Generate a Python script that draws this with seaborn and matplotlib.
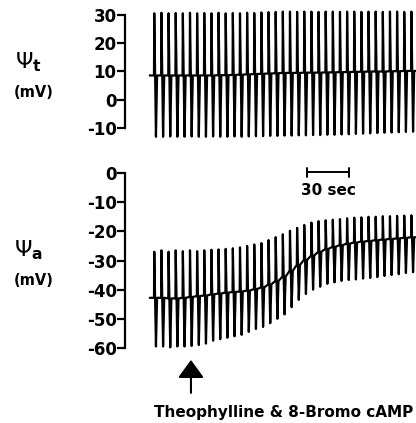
import matplotlib
matplotlib.use("Agg")
import matplotlib.pyplot as plt
import seaborn as sns
import pandas as pd

# ---------------- data ----------------
spike_t = [0.0, 5.1, 10.2, 15.3, 20.4, 25.5, 30.6, 35.7, 40.8, 45.9, 51.0, 56.1,
           61.2, 66.3, 71.4, 76.5, 81.6, 86.7, 91.8, 96.9, 102.0, 107.1, 112.2,
           117.3, 122.4, 127.5, 132.6, 137.7, 142.8, 147.9, 153.0, 158.1, 163.2,
           168.3, 173.4, 178.5, 183.6]

top_base = [8.6, 8.6, 8.6, 8.6, 8.6, 8.6, 8.6, 8.6, 8.6, 8.7, 8.7, 8.8, 8.9,
            9.0, 9.1, 9.2, 9.3, 9.4, 9.5, 9.5, 9.5, 9.6, 9.6, 9.6, 9.7, 9.7,
            9.8, 9.8, 9.9, 9.9, 10.0, 10.0, 10.0, 10.1, 10.1, 10.2, 10.2]
top_peak = [30.6, 30.8, 30.6, 30.7, 30.6, 30.8, 30.6, 30.7, 30.6, 30.8, 30.6,
            30.7, 30.6, 30.8, 30.7, 30.9, 31.0, 31.1, 31.2, 31.2, 31.1, 31.2,
            31.2, 31.1, 31.2, 31.2, 31.1, 31.2, 31.2, 31.1, 31.2, 31.2, 31.1,
            31.2, 31.2, 31.1, 31.2]
top_trough = [-13.1, -13.1, -13.0, -13.1, -13.1, -13.0, -13.1, -13.1, -13.0,
              -13.1, -13.1, -13.0, -13.1, -13.0, -12.9, -12.9, -12.8, -12.8,
              -12.7, -12.7, -12.6, -12.6, -12.5, -12.5, -12.4, -12.4, -12.3,
              -12.2, -12.1, -12.0, -11.9, -11.8, -11.7, -11.6, -11.5, -11.4,
              -11.3]

bot_base = [-42.8, -42.8, -43.0, -43.0, -42.8, -42.5, -42.2, -42.0, -41.6,
            -41.3, -41.0, -40.8, -40.6, -40.3, -39.8, -39.2, -38.2, -37.0,
            -35.5, -33.5, -31.5, -29.8, -28.3, -27.0, -26.0, -25.3, -24.7,
            -24.2, -23.8, -23.5, -23.3, -23.0, -22.8, -22.6, -22.4, -22.2, -22.0]
bot_peak = [-27.0, -26.5, -27.0, -26.5, -26.8, -26.5, -26.8, -26.5, -26.3,
            -26.2, -26.0, -25.8, -25.5, -25.0, -24.5, -24.0, -23.0, -22.0,
            -21.0, -19.8, -18.8, -17.8, -17.0, -16.5, -16.2, -16.0, -15.8,
            -15.5, -15.3, -15.2, -15.0, -15.0, -14.8, -14.8, -14.7, -14.6, -14.5]
bot_trough = [-59.5, -59.5, -59.8, -59.5, -59.5, -59.3, -59.0, -58.5, -57.5,
              -57.0, -56.5, -56.0, -55.5, -54.5, -53.5, -52.8, -51.5, -50.0,
              -48.5, -46.0, -43.5, -41.5, -40.0, -39.0, -38.0, -37.5, -37.0,
              -36.7, -36.5, -36.2, -36.0, -35.7, -35.3, -35.0, -34.7, -34.3, -34.0]

top_ticks = [-10, 0, 10, 20, 30]
top_ticklabels = ["-10", "0", "10", "20", "30"]
bot_ticks = [-60, -50, -40, -30, -20, -10, 0]
bot_ticklabels = ["-60", "-50", "-40", "-30", "-20", "-10", "0"]

scalebar_start = 109.3   # s
scalebar_len = 30        # s
scalebar_label = "30 sec"
drug_time = 26.4         # s
drug_label = "Theophylline & 8-Bromo cAMP"


def trace(ts, base, peak, trough):
    rows = [(ts[0] - 3.0, base[0])]
    for t, b, p, q in zip(ts, base, peak, trough):
        rows += [(t, b), (t + 0.2, p), (t + 1.4, q), (t + 2.2, b)]
    rows.append((ts[-1] + 3.0, base[-1]))
    return pd.DataFrame(rows, columns=["t", "mV"])


sns.set_style("white")
plt.rcParams["font.family"] = ["DejaVu Sans"]
plt.rcParams["axes.unicode_minus"] = False
plt.rcParams["text.color"] = "black"
plt.rcParams["ytick.color"] = "black"
plt.rcParams["ytick.labelcolor"] = "black"

fig = plt.figure(figsize=(4.16, 4.23), dpi=100)
ax1 = fig.add_axes([0.3005, 0.6707, 0.6995, 0.3072])
ax2 = fig.add_axes([0.3005, 0.1636, 0.6995, 0.4411])

xlim = (-20.7, 187.1)
for ax, df, yl, ticks, labels in [
    (ax1, trace(spike_t, top_base, top_peak, top_trough), (-14, 32), top_ticks, top_ticklabels),
    (ax2, trace(spike_t, bot_base, bot_peak, bot_trough), (-62, 2), bot_ticks, bot_ticklabels),
]:
    sns.lineplot(data=df, x="t", y="mV", sort=False, estimator=None,
                 color="black", lw=1.6, ax=ax)
    ax.set_xlim(*xlim)
    ax.set_ylim(*yl)
    ax.set_xticks([])
    ax.set_xlabel("")
    ax.set_ylabel("")
    ax.set_yticks(ticks)
    ax.set_yticklabels(labels, fontsize=12, fontweight="bold", color="black")
    ax.tick_params(axis="y", left=True, direction="out", length=6, width=1.6,
                   pad=0, color="black", labelcolor="black")
    for s in ["top", "right", "bottom"]:
        ax.spines[s].set_visible(False)
    ax.spines["left"].set_linewidth(1.6)
    ax.spines["left"].set_color("black")
    ax.spines["left"].set_bounds(ticks[0], ticks[-1])
    ax.patch.set_alpha(0)

# scale bar
x0, x1 = scalebar_start, scalebar_start + scalebar_len
ax2.plot([x0, x1], [0.3, 0.3], color="black", lw=1.4, clip_on=False)
ax2.plot([x0, x0], [-1.2, 1.8], color="black", lw=1.4, clip_on=False)
ax2.plot([x1, x1], [-1.2, 1.8], color="black", lw=1.4, clip_on=False)
ax2.text((x0 + x1) / 2, -5.9, scalebar_label, ha="center", va="center",
         fontsize=11, fontweight="bold", clip_on=False, color="black")

# arrow for drug application
ax2.annotate("", xy=(drug_time, -64.1), xytext=(drug_time, -75.4),
             xycoords="data", textcoords="data", annotation_clip=False,
             arrowprops=dict(arrowstyle="-|>,head_length=0.55,head_width=0.4",
                             mutation_scale=20, lw=1.5, color="black",
                             shrinkA=0, shrinkB=0))
fig.text(0.6815, 0.026, drug_label, ha="center", va="center",
         fontsize=11, fontweight="bold", color="black")

# panel labels
fig.text(0.068, 0.853, r"$\Psi_{\mathbf{t}}$", ha="center", va="center", fontsize=16)
fig.text(0.082, 0.782, "(mV)", ha="center", va="center", fontsize=10.5, fontweight="bold")
fig.text(0.068, 0.409, r"$\Psi_{\mathbf{a}}$", ha="center", va="center", fontsize=16)
fig.text(0.082, 0.338, "(mV)", ha="center", va="center", fontsize=10.5, fontweight="bold")

fig.savefig("out.png", dpi=100, facecolor="white")
